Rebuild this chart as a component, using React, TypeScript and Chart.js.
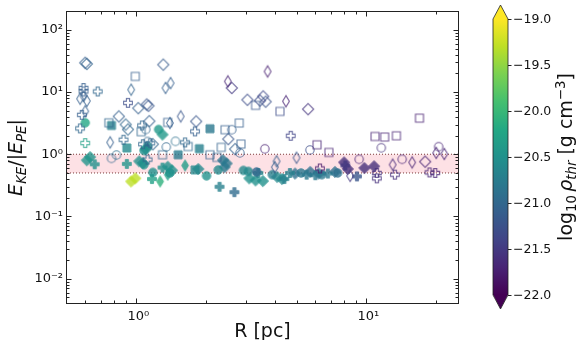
import React, { useEffect, useRef } from 'react';
import { Chart, registerables } from 'chart.js';

Chart.register(...registerables);

// [R (pc), E_KE/|E_PE|, log10 rho_thr]
type Pt = [number, number, number];

const openDiamond: Pt[] = [
  [0.60, 29.5, -21.1], [0.61, 28.3, -21.05], [1.31, 27.5, -21.15], [2.60, 11.6, -21.5],
  [3.04, 7.5, -21.3], [3.45, 7.3, -21.3], [3.56, 8.5, -21.35], [3.65, 7.0, -21.25],
  [5.58, 5.3, -21.55], [1.11, 6.3, -21.2], [1.13, 6.0, -21.2], [1.02, 5.5, -21.1],
  [0.84, 4.05, -21.1], [0.90, 3.0, -21.0], [0.92, 2.5, -21.0], [1.14, 3.4, -21.1],
  [1.82, 3.37, -21.2], [2.51, 1.75, -21.2], [2.69, 1.21, -21.1], [1.18, 1.45, -21.0],
  [18.0, 0.76, -21.7],
];
const openThinDiamond: Pt[] = [
  [0.57, 7.8, -21.1], [0.61, 7.2, -21.1], [0.59, 8.6, -21.1], [0.95, 10.9, -21.05],
  [0.60, 4.9, -21.1], [0.77, 1.55, -21.1], [1.34, 11.6, -21.1], [1.41, 13.9, -21.1],
  [2.50, 14.8, -21.7], [1.40, 3.17, -21.1], [1.56, 4.05, -21.2], [3.72, 21.4, -21.75],
  [4.47, 7.1, -21.7], [4.07, 0.77, -21.1], [4.0, 0.62, -21.1], [4.97, 0.88, -21.2],
  [8.5, 0.45, -21.5], [13.0, 0.68, -21.65], [15.8, 0.74, -21.7], [20.1, 1.05, -21.7],
  [21.8, 1.01, -21.7],
];
const openSquare: Pt[] = [
  [0.99, 17.8, -21.1], [0.76, 3.2, -21.0], [1.05, 2.3, -21.0], [1.30, 0.98, -21.0],
  [1.37, 3.25, -21.1], [3.30, 6.1, -21.2], [2.43, 2.48, -21.1], [2.80, 3.17, -21.1],
  [2.85, 1.46, -21.1], [2.34, 1.29, -21.05], [1.68, 1.33, -21.0], [2.09, 0.98, -21.05],
  [2.24, 0.89, -21.05], [4.21, 4.88, -21.3], [6.10, 1.42, -21.7], [6.87, 1.07, -21.7],
  [10.9, 1.93, -21.7], [12.0, 1.89, -21.7], [13.5, 1.98, -21.7], [17.0, 3.8, -21.75],
];
const openCircle: Pt[] = [
  [1.10, 2.5, -21.0], [0.78, 0.86, -21.0], [0.82, 0.97, -20.9], [2.60, 2.48, -21.1],
  [1.48, 1.61, -20.9], [1.35, 1.31, -21.0], [1.12, 1.6, -21.0], [2.82, 1.05, -21.1],
  [3.62, 1.22, -21.75], [5.68, 1.17, -21.3], [9.3, 0.83, -21.7], [11.6, 1.27, -21.6],
  [14.3, 0.83, -21.7], [20.6, 1.32, -21.7],
];
const openPlus: Pt[] = [
  [0.68, 10.2, -21.0], [0.59, 11.6, -21.1], [0.59, 10.2, -21.1], [0.92, 6.7, -21.3],
  [0.58, 4.3, -21.1], [0.57, 2.6, -21.0], [0.60, 1.51, -20.3], [0.88, 1.71, -21.0],
  [1.06, 2.9, -21.0], [1.07, 1.45, -21.0], [1.15, 1.5, -21.0], [1.80, 2.33, -21.1],
  [1.63, 1.55, -21.0], [4.69, 1.98, -21.4], [6.28, 0.59, -21.8], [11.1, 0.41, -21.6],
  [11.1, 0.50, -21.6], [13.3, 0.47, -21.6], [18.8, 0.51, -21.7], [19.9, 0.50, -21.7],
  [1.12, 0.82, -21.0],
];
const filledDiamond: Pt[] = [
  [0.95, 0.365, -19.3], [0.99, 0.41, -19.3], [0.63, 0.90, -20.45], [0.61, 0.80, -20.45],
  [1.03, 0.77, -20.5], [1.07, 0.72, -20.55], [1.10, 1.2, -20.6], [1.30, 2.07, -20.4],
  [1.37, 0.63, -20.5], [1.43, 0.55, -20.5], [1.86, 0.58, -20.6], [2.38, 0.80, -20.8],
  [2.47, 0.71, -20.8], [2.42, 0.62, -20.8], [3.1, 0.41, -20.5], [3.3, 0.38, -20.5],
  [3.55, 0.37, -20.5], [4.1, 0.43, -20.6], [4.3, 0.40, -20.6], [4.9, 0.49, -20.9],
  [5.7, 0.52, -20.9], [6.2, 0.49, -20.9], [7.3, 0.52, -20.9], [8.0, 0.74, -21.6],
  [8.3, 0.58, -21.6], [9.8, 0.60, -21.6], [10.8, 0.64, -21.6],
];
const filledThinDiamond: Pt[] = [
  [1.27, 0.365, -20.1], [1.63, 0.66, -20.35], [1.37, 0.47, -20.3],
];
const filledSquare: Pt[] = [
  [0.78, 2.9, -20.7], [0.91, 1.26, -20.6], [1.52, 0.98, -20.75], [1.88, 1.23, -20.7],
  [2.09, 2.57, -20.8], [1.80, 0.56, -20.6],
];
const filledCircle: Pt[] = [
  [0.60, 3.2, -20.2], [1.25, 2.5, -20.4], [1.12, 1.35, -20.5], [1.08, 1.15, -20.5],
  [1.08, 0.68, -20.5], [1.18, 0.51, -20.5], [1.40, 0.50, -20.5], [2.02, 0.45, -20.5],
  [2.27, 0.56, -20.6], [2.92, 0.55, -20.6], [3.07, 0.53, -20.6], [3.33, 0.52, -21.0],
  [3.9, 0.47, -20.7], [5.2, 0.50, -20.8], [6.4, 0.47, -20.8], [7.5, 0.50, -20.9],
];
const filledPlus: Pt[] = [
  [0.66, 0.69, -20.5], [0.91, 0.70, -20.45], [1.30, 0.61, -20.5], [1.17, 0.40, -20.3],
  [2.30, 0.30, -20.7], [2.67, 0.246, -20.95], [3.39, 0.50, -20.6], [4.4, 0.40, -20.7],
  [4.65, 0.50, -20.7], [5.5, 0.47, -20.8], [6.0, 0.46, -20.8], [6.8, 0.49, -20.8],
  [8.1, 0.66, -21.5], [9.1, 0.44, -21.2],
];

const xMin = 0.5;
const xMax = 25;
const yMin = 0.00407;
const yMax = 193;
const xTicks = [1, 10];
const xTickLabels = ['10⁰', '10¹'];
const yTicks = [0.01, 0.1, 1, 10, 100];
const yTickLabels = ['10⁻²', '10⁻¹', '10⁰', '10¹', '10²'];
const bandLow = 0.5;
const bandHigh = 1.0;
const rhoMin = -22;
const rhoMax = -19;
const cbTicks = [-19, -19.5, -20, -20.5, -21, -21.5, -22];
const cbTickLabels = ['−19.0', '−19.5', '−20.0', '−20.5', '−21.0', '−21.5', '−22.0'];

const VIRIDIS = [
  [68, 1, 84], [72, 36, 117], [65, 68, 135], [53, 95, 141], [42, 120, 142],
  [33, 145, 140], [34, 168, 132], [68, 191, 112], [122, 209, 81], [189, 223, 38], [253, 231, 37],
];

function viridis(t: number): number[] {
  const c = Math.max(0, Math.min(1, t)) * 10;
  const i = Math.min(9, Math.floor(c));
  const f = c - i;
  const a = VIRIDIS[i], b = VIRIDIS[i + 1];
  return [0, 1, 2].map((k) => Math.round(a[k] + (b[k] - a[k]) * f));
}

function shapePath(g: CanvasRenderingContext2D, shape: string) {
  g.beginPath();
  if (shape === 'D') {
    const r = 5.6;
    g.moveTo(0, -r); g.lineTo(r, 0); g.lineTo(0, r); g.lineTo(-r, 0); g.closePath();
  } else if (shape === 'd') {
    g.moveTo(0, -5.6); g.lineTo(3.4, 0); g.lineTo(0, 5.6); g.lineTo(-3.4, 0); g.closePath();
  } else if (shape === 's') {
    g.rect(-4, -4, 8, 8);
  } else if (shape === 'o') {
    g.arc(0, 0, 4.2, 0, Math.PI * 2);
  } else {
    const a = 4.4, w = 1.6;
    const p = [[-w, -a], [w, -a], [w, -w], [a, -w], [a, w], [w, w], [w, a], [-w, a], [-w, w], [-a, w], [-a, -w], [-w, -w]];
    g.moveTo(p[0][0], p[0][1]);
    for (let k = 1; k < p.length; k++) g.lineTo(p[k][0], p[k][1]);
    g.closePath();
  }
}

function markerImage(shape: string, v: number, filled: boolean): HTMLCanvasElement {
  const c = document.createElement('canvas');
  c.width = 16; c.height = 16;
  const g = c.getContext('2d')!;
  const [r, gg, b] = viridis((v - rhoMin) / (rhoMax - rhoMin));
  const col = `rgb(${r},${gg},${b})`;
  g.translate(8, 8);
  shapePath(g, shape);
  g.strokeStyle = col;
  if (filled) {
    g.fillStyle = col; g.fill(); g.lineWidth = 1; g.stroke();
  } else {
    g.lineWidth = 1.1; g.stroke();
  }
  g.setTransform(1, 0, 0, 1, 0, 0);
  g.globalCompositeOperation = 'destination-in';
  g.fillStyle = `rgba(0,0,0,${filled ? 0.8 : 0.75})`;
  g.fillRect(0, 0, 16, 16);
  return c;
}

type Seg = { t: string; size: number; italic?: boolean; dy?: number };
const FAM = '"DejaVu Sans"';

function drawRich(ctx: CanvasRenderingContext2D, segs: Seg[], x: number, y: number, rot: number) {
  ctx.save();
  ctx.translate(x, y);
  ctx.rotate(rot);
  ctx.textAlign = 'left';
  ctx.textBaseline = 'alphabetic';
  ctx.fillStyle = '#111';
  const fonts = segs.map((s) => `${s.italic ? 'italic ' : ''}${s.size}px ${FAM}`);
  const widths = segs.map((s, i) => { ctx.font = fonts[i]; return ctx.measureText(s.t).width; });
  let cx = -widths.reduce((a, b) => a + b, 0) / 2;
  segs.forEach((s, i) => { ctx.font = fonts[i]; ctx.fillText(s.t, cx, s.dy || 0); cx += widths[i]; });
  ctx.restore();
}

const decorPlugin = {
  id: 'decor',
  afterDraw(chart: any) {
    const ctx: CanvasRenderingContext2D = chart.ctx;
    const xs = chart.scales.x, ys = chart.scales.y;
    const { left, right, top, bottom } = chart.chartArea;
    ctx.save();
    ctx.strokeStyle = '#222';
    ctx.lineWidth = 1;
    ctx.strokeRect(left - 0.5, top - 0.5, right - left + 1, bottom - top + 1);
    const xMinor = [0.6, 0.7, 0.8, 0.9, 2, 3, 4, 5, 6, 7, 8, 9, 20];
    const tick = (x1: number, y1: number, x2: number, y2: number) => {
      ctx.beginPath(); ctx.moveTo(x1, y1); ctx.lineTo(x2, y2); ctx.stroke();
    };
    const xt = [...xTicks.map((v) => [v, 4.5]), ...xMinor.map((v) => [v, 2.5])];
    xt.forEach(([v, len]) => {
      const px = Math.round(xs.getPixelForValue(v)) + 0.5;
      tick(px, bottom, px, bottom - len);
      tick(px, top, px, top + len);
    });
    // x tick labels
    ctx.fillStyle = '#111';
    ctx.font = `13px ${FAM}`;
    ctx.textAlign = 'center';
    ctx.textBaseline = 'alphabetic';
    xTicks.forEach((v, i) => {
      ctx.fillText(xTickLabels[i], xs.getPixelForValue(v) + 2, bottom + 16.5);
    });
    const yt: number[][] = yTicks.map((v) => [v, 4.5]);
    for (let k = -3; k <= 2; k++) {
      for (let m = 2; m <= 9; m++) {
        const v = m * Math.pow(10, k);
        if (v > yMin && v < yMax) yt.push([v, 2.5]);
      }
    }
    yt.forEach(([v, len]) => {
      const py = Math.round(ys.getPixelForValue(v)) + 0.5;
      tick(left, py, left + len, py);
      tick(right, py, right - len, py);
    });

    // colorbar
    const cbL = 493, cbR = 508, cbTop = 19, cbBot = 295, ext = 14;
    const cx = (cbL + cbR) / 2;
    const grad = ctx.createLinearGradient(0, cbBot, 0, cbTop);
    VIRIDIS.forEach((c, i) => grad.addColorStop(i / 10, `rgb(${c[0]},${c[1]},${c[2]})`));
    ctx.fillStyle = grad;
    ctx.fillRect(cbL, cbTop, cbR - cbL, cbBot - cbTop);
    const hi = VIRIDIS[10], lo = VIRIDIS[0];
    ctx.fillStyle = `rgb(${hi[0]},${hi[1]},${hi[2]})`;
    ctx.beginPath(); ctx.moveTo(cbL, cbTop + 0.5); ctx.lineTo(cx, cbTop - ext); ctx.lineTo(cbR, cbTop + 0.5); ctx.closePath(); ctx.fill();
    ctx.fillStyle = `rgb(${lo[0]},${lo[1]},${lo[2]})`;
    ctx.beginPath(); ctx.moveTo(cbL, cbBot - 0.5); ctx.lineTo(cx, cbBot + ext); ctx.lineTo(cbR, cbBot - 0.5); ctx.closePath(); ctx.fill();
    ctx.strokeStyle = '#222';
    ctx.lineWidth = 0.8;
    ctx.beginPath();
    ctx.moveTo(cbL, cbTop); ctx.lineTo(cx, cbTop - ext); ctx.lineTo(cbR, cbTop);
    ctx.lineTo(cbR, cbBot); ctx.lineTo(cx, cbBot + ext); ctx.lineTo(cbL, cbBot); ctx.closePath();
    ctx.stroke();
    ctx.lineWidth = 1;
    ctx.fillStyle = '#111';
    ctx.font = `12.5px ${FAM}`;
    ctx.textAlign = 'left';
    ctx.textBaseline = 'middle';
    cbTicks.forEach((v, i) => {
      const py = cbBot - ((v - rhoMin) / (rhoMax - rhoMin)) * (cbBot - cbTop);
      const ry = Math.round(py) + 0.5;
      tick(cbR, ry, cbR + 3.5, ry);
      ctx.fillText(cbTickLabels[i], cbR + 5, py + 0.5);
    });
    ctx.restore();

    // titles
    drawRich(ctx, [{ t: 'R [pc]', size: 19 }], (left + right) / 2, 337, 0);
    drawRich(ctx, [
      { t: 'E', size: 19, italic: true },
      { t: 'KE', size: 13.3, italic: true, dy: 4 },
      { t: '/|', size: 19 },
      { t: 'E', size: 19, italic: true },
      { t: 'PE', size: 13.3, italic: true, dy: 4 },
      { t: '|', size: 19 },
    ], 22, (top + bottom) / 2, -Math.PI / 2);
    drawRich(ctx, [
      { t: 'log', size: 19 },
      { t: '10', size: 13.3, dy: 4 },
      { t: ' ', size: 10 },
      { t: 'ρ', size: 19, italic: true },
      { t: 'thr', size: 13.3, italic: true, dy: 4 },
      { t: ' [g cm', size: 19 },
      { t: '−3', size: 13.3, dy: -7.5 },
      { t: ']', size: 19 },
    ], 572, (cbTop + cbBot) / 2, -Math.PI / 2);
  },
};

export default function App() {
  const ref = useRef<HTMLCanvasElement | null>(null);
  useEffect(() => {
    document.body.style.margin = '0';
    const canvas = ref.current;
    if (!canvas) return;
    Chart.defaults.font.family = FAM;
    const groups: { pts: Pt[]; shape: string; filled: boolean }[] = [
      { pts: openSquare, shape: 's', filled: false },
      { pts: openCircle, shape: 'o', filled: false },
      { pts: openPlus, shape: 'P', filled: false },
      { pts: openThinDiamond, shape: 'd', filled: false },
      { pts: openDiamond, shape: 'D', filled: false },
      { pts: filledSquare, shape: 's', filled: true },
      { pts: filledCircle, shape: 'o', filled: true },
      { pts: filledPlus, shape: 'P', filled: true },
      { pts: filledThinDiamond, shape: 'd', filled: true },
      { pts: filledDiamond, shape: 'D', filled: true },
    ];
    const bandStyle = {
      type: 'line' as const,
      borderColor: '#7a3b3b',
      borderWidth: 1,
      borderDash: [1, 2],
      pointRadius: 0,
      pointHoverRadius: 0,
      tension: 0,
    };
    const datasets: any[] = [
      { ...bandStyle, data: [{ x: xMin, y: bandHigh }, { x: xMax, y: bandHigh }], fill: '+1', backgroundColor: 'rgba(250,170,180,0.35)', order: 11 },
      { ...bandStyle, data: [{ x: xMin, y: bandLow }, { x: xMax, y: bandLow }], fill: false, order: 10 },
      ...groups.map((g) => ({
        type: 'scatter',
        data: g.pts.map((p) => ({ x: p[0], y: p[1] })),
        pointStyle: g.pts.map((p) => markerImage(g.shape, p[2], g.filled)),
        pointRadius: 5,
        pointHoverRadius: 5,
        order: 0,
      })),
    ];
    const chart = new Chart(canvas, {
      type: 'scatter',
      data: { datasets },
      options: {
        animation: false,
        responsive: false,
        maintainAspectRatio: false,
        devicePixelRatio: 1,
        events: [],
        layout: { padding: { top: 12, right: 128, left: 0, bottom: 0 } },
        plugins: { legend: { display: false }, tooltip: { enabled: false } },
        scales: {
          x: {
            type: 'logarithmic',
            min: xMin,
            max: xMax,
            bounds: 'data',
            grid: { display: false, drawTicks: false },
            border: { display: false },
            ticks: { display: false },
            afterBuildTicks: (s: any) => { s.ticks = xTicks.map((v) => ({ value: v })); },
            afterFit: (s: any) => { s.height = 37; },
          },
          y: {
            type: 'logarithmic',
            min: yMin,
            max: yMax,
            bounds: 'data',
            grid: { display: false, drawTicks: false },
            border: { display: false },
            ticks: {
              font: { size: 13, family: FAM },
              color: '#111',
              padding: 4,
              autoSkip: false,
              callback: (_v: any, i: number) => yTickLabels[i],
            },
            afterBuildTicks: (s: any) => { s.ticks = yTicks.map((v) => ({ value: v })); },
            afterFit: (s: any) => { s.width = 67; },
          },
        },
      } as any,
      plugins: [decorPlugin],
    });
    return () => chart.destroy();
  }, []);
  return (
    <div style={{ width: 586, height: 340, background: '#fff' }}>
      <canvas ref={ref} width={586} height={340} style={{ display: 'block', width: 586, height: 340 }} />
    </div>
  );
}
